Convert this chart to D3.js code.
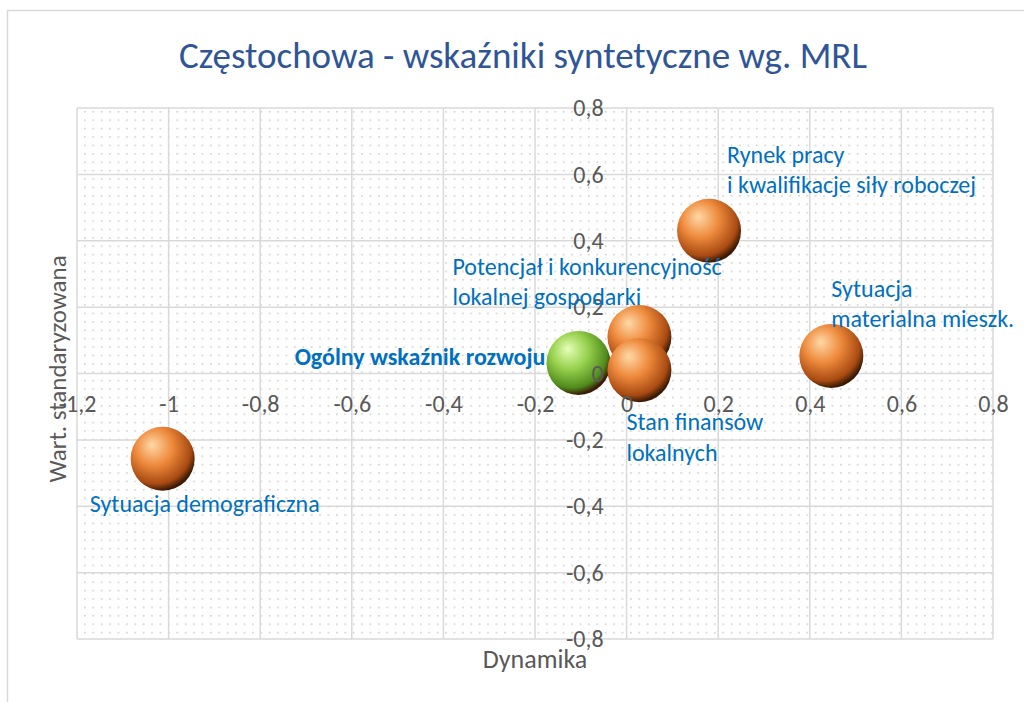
<!DOCTYPE html>
<html>
<head>
<meta charset="utf-8">
<script src="https://cdn.jsdelivr.net/npm/d3@7"></script>
<style>
  body { margin: 0; background: #fff; }
  svg { display: block; }
  text { font-family: Carlito, Calibri, Lato, sans-serif; }
</style>
</head>
<body>
<script>
// bubble data
const names = ['Ogólny wskaźnik rozwoju', 'Potencjał i konkurencyjność lokalnej gospodarki',
  'Stan finansów lokalnych', 'Rynek pracy i kwalifikacje siły roboczej',
  'Sytuacja materialna mieszk.', 'Sytuacja demograficzna'];
const dynamika = [-0.105, 0.028, 0.028, 0.18, 0.447, -1.013];
const wartStd = [0.032, 0.11, 0.01, 0.43, 0.053, -0.257];
const bubbleSize = [1, 1, 1, 1, 1, 1];
const xTicks = [-1.2, -1, -0.8, -0.6, -0.4, -0.2, 0, 0.2, 0.4, 0.6, 0.8];
const yTicks = [-0.8, -0.6, -0.4, -0.2, 0, 0.2, 0.4, 0.6, 0.8];

// label text lines and where they sit relative to each bubble
const labelLines = [
  ['Ogólny wskaźnik rozwoju'],
  ['Potencjał i konkurencyjność', 'lokalnej gospodarki'],
  ['Stan finansów', 'lokalnych'],
  ['Rynek pracy', 'i kwalifikacje siły roboczej'],
  ['Sytuacja', 'materialna mieszk.'],
  ['Sytuacja demograficzna']
];
const labelPlace = [
  { dx: -33, dy: 2, anchor: 'end', bold: true },
  { dx: -187, dy: -62 },
  { dx: -13, dy: 60 },
  { dx: 18, dy: -68 },
  { dx: 0, dy: -59 },
  { dx: -73, dy: 53 }
];

const W = 1024, H = 702;
const plot = { left: 77, right: 993, top: 108, bottom: 639 };

const svg = d3.select('body').append('svg')
  .attr('width', W)
  .attr('height', H);

const defs = svg.append('defs');

// dotted fill of the plot area
const pat = defs.append('pattern')
  .attr('id', 'dots')
  .attr('patternUnits', 'userSpaceOnUse')
  .attr('x', plot.left + 7)
  .attr('y', plot.top + 3)
  .attr('width', 8.4)
  .attr('height', 8.4);
pat.append('rect')
  .attr('width', 1.6).attr('height', 1.6)
  .attr('fill', '#cfcfcf');

// sphere gradients
function sphere(id, light, mid, dark) {
  const g = defs.append('radialGradient')
    .attr('id', id)
    .attr('cx', '40%').attr('cy', '35%')
    .attr('r', '65%')
    .attr('fx', '33%').attr('fy', '28%');
  g.append('stop').attr('offset', '0%').attr('stop-color', light);
  g.append('stop').attr('offset', '45%').attr('stop-color', mid);
  g.append('stop').attr('offset', '85%').attr('stop-color', dark);
  g.append('stop').attr('offset', '100%').attr('stop-color', '#3a1a05');
}
sphere('orange', '#ffd9a8', '#ee8a3c', '#a84a12');
sphere('green', '#e6ffb8', '#96d04c', '#4f8a1c');

// outer chart border
svg.append('path')
  .attr('d', `M7.5,${H} V10.5 H${W}`)
  .attr('fill', 'none')
  .attr('stroke', '#d9d9d9')
  .attr('stroke-width', 1.5);

const x = d3.scaleLinear().domain([-1.2, 0.8]).range([plot.left, plot.right]);
const y = d3.scaleLinear().domain([-0.8, 0.8]).range([plot.bottom, plot.top]);
const r = d3.scaleSqrt().domain([0, 1]).range([0, 32]);

svg.append('rect')
  .attr('x', plot.left).attr('y', plot.top)
  .attr('width', plot.right - plot.left)
  .attr('height', plot.bottom - plot.top)
  .attr('fill', 'url(#dots)');

// gridlines
svg.append('g').selectAll('line')
  .data(xTicks)
  .enter().append('line')
  .attr('x1', d => x(d)).attr('x2', d => x(d))
  .attr('y1', plot.top).attr('y2', plot.bottom)
  .attr('stroke', '#d9d9d9')
  .attr('stroke-width', 1.5);
svg.append('g').selectAll('line')
  .data(yTicks)
  .enter().append('line')
  .attr('y1', d => y(d)).attr('y2', d => y(d))
  .attr('x1', plot.left).attr('x2', plot.right)
  .attr('stroke', '#d9d9d9')
  .attr('stroke-width', 1.5);

// bubbles
const order = [0, 1, 2, 3, 4, 5];
svg.append('g').selectAll('circle')
  .data(order)
  .enter().append('circle')
  .attr('cx', i => x(dynamika[i]))
  .attr('cy', i => y(wartStd[i]))
  .attr('r', i => r(bubbleSize[i]))
  .attr('fill', i => i === 0 ? 'url(#green)' : 'url(#orange)');

// axes crossing at 0 (ticks as text only)
const xAxis = d3.axisBottom(x).tickValues(xTicks)
  .tickFormat(d => String(d).replace('.', ','))
  .tickSize(0).tickPadding(21);
const yAxis = d3.axisLeft(y).tickValues(yTicks)
  .tickFormat(d => String(d).replace('.', ','))
  .tickSize(0).tickPadding(23);

const gx = svg.append('g')
  .attr('transform', `translate(0,${y(0)})`)
  .call(xAxis);
const gy = svg.append('g')
  .attr('transform', `translate(${x(0)},0)`)
  .call(yAxis);
[gx, gy].forEach(g => {
  g.select('.domain').remove();
  g.selectAll('text')
    .attr('fill', '#595959')
    .style('font-size', '24px')
    .style('font-family', 'Carlito, Calibri, Lato, sans-serif');
});

// data labels
order.forEach(i => {
  const p = labelPlace[i];
  const t = svg.append('text')
    .attr('x', x(dynamika[i]) + p.dx)
    .attr('y', y(wartStd[i]) + p.dy)
    .attr('text-anchor', p.anchor || 'start')
    .attr('fill', '#0070c0')
    .style('font-size', '24px')
    .style('font-weight', p.bold ? 'bold' : 'normal');
  labelLines[i].forEach((line, k) => {
    t.append('tspan')
      .attr('x', x(dynamika[i]) + p.dx)
      .attr('dy', k === 0 ? 0 : 30.5)
      .text(line);
  });
});

// title and axis titles
svg.append('text')
  .attr('x', 523).attr('y', 68)
  .attr('text-anchor', 'middle')
  .attr('fill', '#2f5597')
  .style('font-size', '37px')
  .text('Częstochowa - wskaźniki syntetyczne wg. MRL');

svg.append('text')
  .attr('x', 535).attr('y', 668)
  .attr('text-anchor', 'middle')
  .attr('fill', '#595959')
  .style('font-size', '26px')
  .text('Dynamika');

svg.append('text')
  .attr('transform', `translate(66,${369}) rotate(-90)`)
  .attr('text-anchor', 'middle')
  .attr('fill', '#595959')
  .style('font-size', '25px')
  .text('Wart. standaryzowana');
</script>
</body>
</html>
